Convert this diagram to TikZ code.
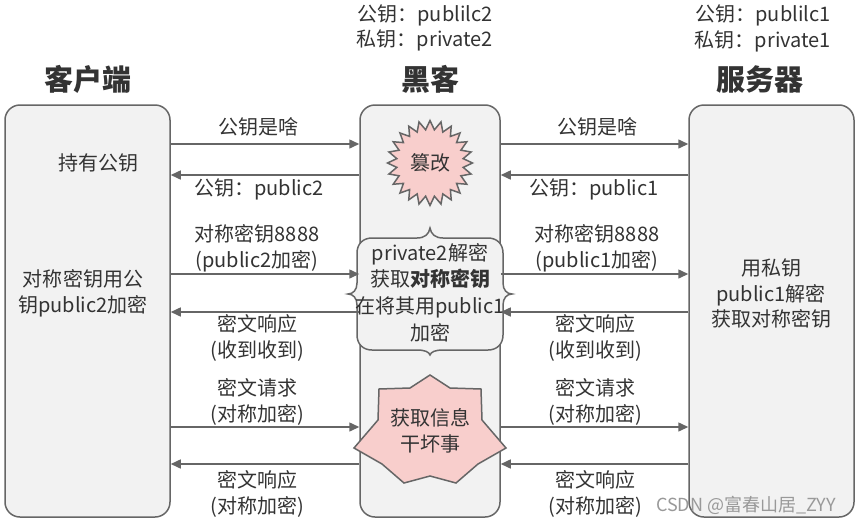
\documentclass[tikz,border=0pt]{standalone}
\usepackage{fontspec}
\setmainfont{Noto Sans CJK SC}
\usetikzlibrary{arrows.meta,shapes.geometric}
\definecolor{edgec}{HTML}{666666}
\definecolor{boxfill}{HTML}{F2F2F2}
\definecolor{pinkfill}{HTML}{F8CECC}
\definecolor{txt}{HTML}{333333}
\begin{document}
\begin{tikzpicture}[x=1pt,y=-1pt,
  panel/.style={draw=edgec, fill=boxfill, line width=1.5pt, rounded corners=15pt, inner sep=0},
  arr/.style={draw=edgec, line width=1.5pt, -{Triangle[length=10pt,width=9pt]}},
  lbl/.style={text=txt, font=\fontsize{20}{26}\selectfont, align=center, inner sep=0},
  titlelbl/.style={text=txt, font=\fontsize{29}{34}\selectfont\bfseries, inner sep=0},
  pinkshape/.style={draw=edgec, fill=pinkfill, line width=1.5pt, line join=miter},
  braceshape/.style={draw=edgec, fill=boxfill, line width=1.5pt}
]
\useasboundingbox[fill=white] (0,0) rectangle (859,525);

% panels
\node[panel, minimum width=165pt, minimum height=412pt] (client) at (87.5,311) {};
\node[panel, minimum width=140pt, minimum height=412pt] (hacker) at (430,311) {};
\node[panel, minimum width=165pt, minimum height=412pt] (server) at (771.5,311) {};

% titles
\node[titlelbl] (tclient) at (88,79) {客户端};
\node[titlelbl] (thacker) at (430,79) {黑客};
\node[titlelbl] (tserver) at (760,79) {服务器};

% key info
\node[lbl] (hk1) at (425,15) {公钥：publilc2};
\node[lbl] (hk2) at (425,40) {私钥：private2};
\node[lbl] (sk1) at (763,15) {公钥：publilc1};
\node[lbl] (sk2) at (763,41) {私钥：private1};

% client / server texts
\node[lbl] (chold) at (98,163) {持有公钥};
\node[lbl] (cenc) at (83,293) {对称密钥用公\\钥public2加密};
\node[lbl, font=\fontsize{20}{25.5}\selectfont] (sdec) at (771,293.5) {用私钥\\public1解密\\获取对称密钥};

% burst
\node[shape=star, star points=24, star point ratio=1.27, minimum size=85pt, inner sep=0,
      pinkshape, text=txt, font=\fontsize{20}{26}\selectfont] (burst) at (430,163) {篡改};

% brace shape
\coordinate (bc) at (430,294);
\draw[braceshape, shift={(bc)}]
  (-73,-41) .. controls (-73,-50) and (-67,-56) .. (-58,-56)
  -- (-13,-56) .. controls (-5,-56) and (-1,-60) .. (0,-66)
  .. controls (1,-60) and (5,-56) .. (13,-56)
  -- (58,-56) .. controls (67,-56) and (73,-50) .. (73,-41)
  -- (73,-11) .. controls (73,-4) and (77,0) .. (82,0)
  .. controls (77,0) and (73,4) .. (73,11)
  -- (73,41) .. controls (73,50) and (67,56) .. (58,56)
  -- (13,56) .. controls (5,56) and (1,58) .. (0,61)
  .. controls (-1,58) and (-5,56) .. (-13,56)
  -- (-58,56) .. controls (-67,56) and (-73,50) .. (-73,41)
  -- (-73,11) .. controls (-73,4) and (-77,0) .. (-82,0)
  .. controls (-77,0) and (-73,-4) .. (-73,-11) -- cycle;
\node[lbl, font=\fontsize{20}{26.7}\selectfont] (crack) at (430,292.5)
  {private2解密\\获取\textbf{对称密钥}\\在将其用public1\\加密};

% seven-point star
\coordinate (sc) at (430,430);
\draw[pinkshape, shift={(sc)}]
  (0,-55) -- (20,-42) -- (51,-41) -- (52,-10) -- (76,18) -- (48,34) -- (26,53)
  -- (0,46) -- (-26,53) -- (-48,34) -- (-76,18) -- (-52,-10) -- (-51,-41) -- (-20,-42) -- cycle;
\node[lbl] (steal) at (430,431) {获取信息\\干坏事};

% rows
\coordinate (r1) at (0,144);
\coordinate (r2) at (0,175);
\coordinate (r3) at (0,274);
\coordinate (r4) at (0,312);
\coordinate (r5) at (0,427);
\coordinate (r6) at (0,464);

% left arrows
\draw[arr] (client.east|-r1) -- (hacker.west|-r1);
\draw[arr] (hacker.west|-r2) -- (client.east|-r2);
\draw[arr] (client.east|-r3) -- (hacker.west|-r3);
\draw[arr] (hacker.west|-r4) -- (client.east|-r4);
\draw[arr] (client.east|-r5) -- (hacker.west|-r5);
\draw[arr] (hacker.west|-r6) -- (client.east|-r6);
% right arrows
\draw[arr] (hacker.east|-r1) -- (server.west|-r1);
\draw[arr] (server.west|-r2) -- (hacker.east|-r2);
\draw[arr] (hacker.east|-r3) -- (server.west|-r3);
\draw[arr] (server.west|-r4) -- (hacker.east|-r4);
\draw[arr] (hacker.east|-r5) -- (server.west|-r5);
\draw[arr] (server.west|-r6) -- (hacker.east|-r6);

% left labels
\node[lbl] (la1) at (258,127) {公钥是啥};
\node[lbl] (la2) at (259,189) {公钥：public2};
\node[lbl] (la3) at (257,248) {对称密钥8888\\(public2加密)};
\node[lbl] (la4) at (257,338) {密文响应\\(收到收到)};
\node[lbl] (la5) at (257,401.5) {密文请求\\(对称加密)};
\node[lbl] (la6) at (257,494) {密文响应\\(对称加密)};
% right labels
\node[lbl] (ra1) at (597,127) {公钥是啥};
\node[lbl] (ra2) at (594,189) {公钥：public1};
\node[lbl] (ra3) at (597,248) {对称密钥8888\\(public1加密)};
\node[lbl] (ra4) at (595,338) {密文响应\\(收到收到)};
\node[lbl] (ra5) at (595,401.5) {密文请求\\(对称加密)};
\node[lbl] (ra6) at (595,494) {密文响应\\(对称加密)};

% watermark
\node[text=black!40, font=\fontsize{18}{20}\selectfont, inner sep=0] (wm) at (746,505) {CSDN @富春山居\_ZYY};
\end{tikzpicture}
\end{document}
